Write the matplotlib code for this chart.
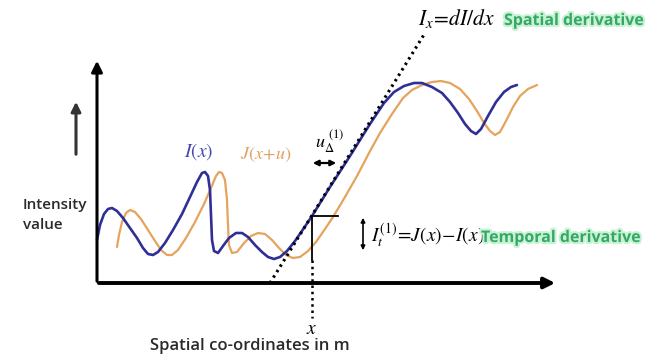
import matplotlib.pyplot as plt
import matplotlib.patheffects as pe

plt.rcParams['mathtext.fontset'] = 'stix'

# curve samples (position along x, intensity)
i_pos = [0, 3, 7, 11, 15, 20, 26, 33, 40, 46, 51, 56, 61, 68, 76, 85, 93, 100, 105, 108,
         111, 113, 114, 115, 117, 121, 126, 132, 139, 145, 151, 158, 165, 171, 177, 183,
         190, 198, 207, 215, 233, 253, 273, 287, 297, 307, 317, 325, 335, 345, 353, 361,
         368, 374, 379, 384, 391, 399, 407, 414, 420]
i_val = [43, 58, 69, 74, 75, 72, 65, 55, 45, 35, 29, 28, 31, 40, 53, 69, 86, 101, 110, 111,
         107, 93, 68, 43, 32, 30, 37, 45, 50, 50, 46, 38, 31, 26, 24, 26,
         32, 42, 55, 67, 96, 127, 159, 180, 191, 197, 200, 200, 196, 190, 181, 170,
         159, 152, 149, 154, 167, 181, 191, 196, 198]

j_pos = [20, 22, 25, 29, 33, 38, 44, 51, 58, 64, 70, 75, 81, 89, 98, 107, 114, 119, 122, 125,
         128, 130, 131, 132, 135, 140, 147, 154, 161, 168, 175, 182, 189, 196, 203, 211,
         219, 228, 236, 248, 260, 272, 283, 295, 306, 315, 325, 335, 344, 353, 363, 372,
         380, 387, 393, 398, 403, 409, 416, 423, 431, 440]
j_val = [36, 48, 61, 70, 73, 71, 64, 53, 42, 33, 28, 28, 33, 45, 61, 79, 95, 107, 111, 110,
         103, 83, 58, 38, 30, 31, 40, 47, 50, 49, 43, 35, 28, 25, 26, 32,
         41, 54, 66, 86, 107, 130, 150, 169, 185, 193, 198, 201, 202, 200, 194, 184,
         172, 160, 152, 148, 151, 162, 176, 187, 194, 198]

tangent_pos = [173, 328]
tangent_val = [0, 250]

x_point = 215          # marked position x
i_at_x = 67            # I(x) at marked position
j_at_x = 23            # J(x) at marked position

blue = '#2f2f96'
orange = '#e6a35c'
green = '#36a865'

fig = plt.figure(figsize=(6.46, 3.58), dpi=100)
ax = fig.add_axes([0, 0, 1, 1])
ax.set_xlim(-97, 549)
ax.set_ylim(-75, 283)
ax.axis('off')

# axes arrows
ax.annotate('', xy=(0, 225), xytext=(0, -1),
            arrowprops=dict(arrowstyle='-|>', lw=2.2, color='black', mutation_scale=16))
ax.annotate('', xy=(461, 0), xytext=(-1, 0),
            arrowprops=dict(arrowstyle='-|>', lw=2.8, color='black', mutation_scale=16))
ax.annotate('', xy=(-21, 184), xytext=(-21, 126),
            arrowprops=dict(arrowstyle='-|>', lw=2.2, color='#333333', mutation_scale=14))

# curves
ax.plot(j_pos, j_val, color=orange, lw=1.6, solid_capstyle='round')
ax.plot(i_pos, i_val, color=blue, lw=1.9, solid_capstyle='round')
ax.plot(tangent_pos, tangent_val, color='black', lw=2.2, linestyle=(0, (0.8, 1.3)))

# marked position
ax.plot([x_point, x_point], [j_at_x, i_at_x], color='black', lw=1.3)
ax.plot([x_point, x_point + 26], [i_at_x, i_at_x], color='black', lw=1.3)
ax.plot([x_point, x_point], [j_at_x, -35], color='black', lw=1.8, linestyle=(0, (1, 1.5)))

ax.annotate('', xy=(213, 120), xytext=(242, 120),
            arrowprops=dict(arrowstyle='<|-|>', lw=1.6, color='black', mutation_scale=8))
ax.annotate('', xy=(266, 68), xytext=(266, 30),
            arrowprops=dict(arrowstyle='<|-|>', lw=1.2, color='black', mutation_scale=6))

# labels
ax.text(102, 131, r'$I(x)$', color='#4545b0', fontsize=14, ha='center', va='center')
ax.text(169, 128, r'$J(x\!+\!u)$', color='#e0a060', fontsize=13, ha='center', va='center')
ax.text(233, 141, r'$u_{\Delta}^{\ (1)}$', color='black', fontsize=13, ha='center', va='center')
ax.text(321, 265, r'$I_x\!=\!dI/dx$', color='black', fontsize=15.5, ha='left', va='center')
ax.text(274, 47, r'$I_t^{(1)}\!=\!J(x)\!-\!I(x)$', color='black', fontsize=14, ha='left', va='center')
ax.text(215, -46, r'$x$', color='black', fontsize=14, ha='center', va='center')

glow = [pe.withStroke(linewidth=3, foreground='#c8f2d4')]
ax.text(407, 262, 'Spatial derivative', color=green, fontsize=11.5, fontweight='bold',
        family='Open Sans', ha='left', va='center', path_effects=glow)
ax.text(384, 45, 'Temporal derivative', color=green, fontsize=11.5, fontweight='bold',
        family='Open Sans', ha='left', va='center', path_effects=glow)

ax.text(-74, 78, 'Intensity', color='#2a2a2a', fontsize=11, fontweight='semibold',
        family='Open Sans', ha='left', va='center')
ax.text(-74, 58, 'value', color='#2a2a2a', fontsize=11, fontweight='semibold',
        family='Open Sans', ha='left', va='center')
ax.text(153, -63, 'Spatial co-ordinates in m', color='#2a2a2a', fontsize=12,
        fontweight='semibold', family='Open Sans', ha='center', va='center')

fig.savefig('out.png', dpi=100)
